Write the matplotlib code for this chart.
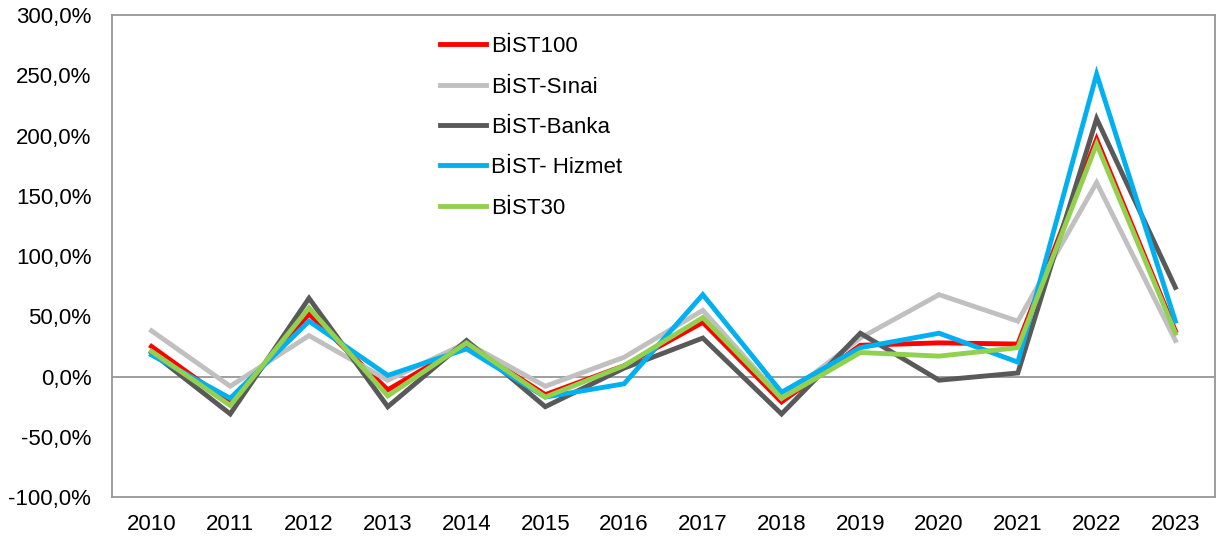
import matplotlib
matplotlib.use("Agg")
from matplotlib import pyplot as plt
from matplotlib.ticker import FuncFormatter

plt.rcParams['font.family'] = ['Liberation Sans', 'DejaVu Sans']

# yearly returns (%)
years = ['2010', '2011', '2012', '2013', '2014', '2015', '2016',
         '2017', '2018', '2019', '2020', '2021', '2022', '2023']
bist100 = [25, -22, 52, -11, 27, -15, 9, 45, -21, 26, 28, 27, 197, 38]
sinai = [38, -8, 34, -3, 28, -8, 16, 55, -18, 32, 68, 46, 161, 30]
banka = [20, -31, 65, -25, 30, -25, 7, 32, -31, 36, -3, 3, 214, 74]
hizmet = [18, -18, 46, 1, 23, -17, -6, 68, -13, 24, 36, 12, 251, 46]
bist30 = [21, -24, 57, -16, 28, -17, 9, 49, -18, 20, 17, 24, 193, 36]

names = ['BİST100', 'BİST-Sınai', 'BİST-Banka', 'BİST- Hizmet', 'BİST30']
series = [bist100, sinai, banka, hizmet, bist30]
colors = ['#ff0000', '#c0c0c0', '#595959', '#00b0f0', '#92d050']

fig = plt.figure(figsize=(12.32, 5.38), dpi=100)
ax = fig.add_axes([0.091, 0.076, 0.895, 0.896])

x = range(len(years))
ax.axhline(0, color='#969696', lw=1.3, zorder=1)
for vals, name, c in zip(series, names, colors):
    ax.plot(x, vals, color=c, lw=3.5, label=name, solid_joinstyle='miter', zorder=2)

ax.set_xlim(-0.5, len(years) - 0.5)
ax.set_ylim(-100, 300)
ax.set_yticks(range(-100, 301, 50))
ax.yaxis.set_major_formatter(FuncFormatter(lambda v, p: ('%.1f%%' % v).replace('.', ',')))
ax.set_xticks(list(x))
ax.set_xticklabels(years)
ax.tick_params(axis='both', length=0, labelsize=16)
ax.tick_params(axis='y', pad=15)
ax.tick_params(axis='x', pad=12)
for s in ax.spines.values():
    s.set_color('#969696')
    s.set_linewidth(1.3)

ax.legend(loc='upper left', bbox_to_anchor=(0.297, 0.956), frameon=False, fontsize=16,
          borderpad=0, borderaxespad=0,
          handlelength=2.1, handletextpad=0.2, labelspacing=0.87)

fig.savefig("out.png", dpi=100)
